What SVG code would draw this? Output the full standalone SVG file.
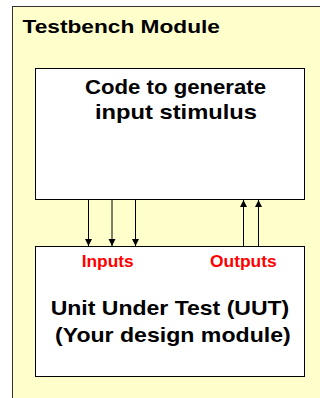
<svg xmlns="http://www.w3.org/2000/svg" width="320" height="398" viewBox="0 0 320 398">
<style>
.t{font-family:"Liberation Sans",Arial,sans-serif;font-weight:bold;fill:#000}
.r{font-family:"Liberation Sans",Arial,sans-serif;font-weight:bold;fill:#ff0000;font-size:16.5px}
.box{fill:#fff;stroke:#000;stroke-width:1}
.c{stroke:#000;stroke-width:1;fill:none}
</style>
<defs>
<marker id="ah" viewBox="0 0 7 8" refX="7" refY="4" markerWidth="7" markerHeight="8" markerUnits="userSpaceOnUse" orient="auto">
<path d="M0,0.5 L7,4 L0,7.5 Z" fill="#000"/>
</marker>
</defs>
<rect x="0" y="0" width="320" height="398" fill="#fff"/>
<g id="testbench">
<rect x="12.5" y="6.5" width="320" height="400" fill="#ffffcc" stroke="#333" stroke-width="1"/>
<text class="t" x="22.5" y="33" font-size="17.5" textLength="197.5" lengthAdjust="spacingAndGlyphs">Testbench Module</text>
</g>
<g id="stimulus">
<rect class="box" x="35.5" y="68.5" width="269" height="131"/>
<text class="t" x="85" y="94" font-size="21" textLength="181" lengthAdjust="spacingAndGlyphs">Code to generate</text>
<text class="t" x="95" y="118.5" font-size="21" textLength="162" lengthAdjust="spacingAndGlyphs">input stimulus</text>
</g>
<g id="uut">
<rect class="box" x="35.5" y="246.5" width="269" height="130"/>
<text class="r" x="81.7" y="267" textLength="52" lengthAdjust="spacingAndGlyphs">Inputs</text>
<text class="r" x="210" y="267" textLength="66.7" lengthAdjust="spacingAndGlyphs">Outputs</text>
<text class="t" x="50.7" y="314.5" font-size="21" textLength="238.6" lengthAdjust="spacingAndGlyphs">Unit Under Test (UUT)</text>
<text class="t" x="55" y="341.5" font-size="21" textLength="235.7" lengthAdjust="spacingAndGlyphs">(Your design module)</text>
</g>
<g id="connectors">
<line class="c" x1="88.5" y1="200" x2="88.5" y2="246" marker-end="url(#ah)"/>
<line class="c" x1="112" y1="200" x2="112" y2="246" marker-end="url(#ah)"/>
<line class="c" x1="135.5" y1="200" x2="135.5" y2="246" marker-end="url(#ah)"/>
<line class="c" x1="243.5" y1="246" x2="243.5" y2="200" marker-end="url(#ah)"/>
<line class="c" x1="258.5" y1="246" x2="258.5" y2="200" marker-end="url(#ah)"/>
</g>
</svg>
